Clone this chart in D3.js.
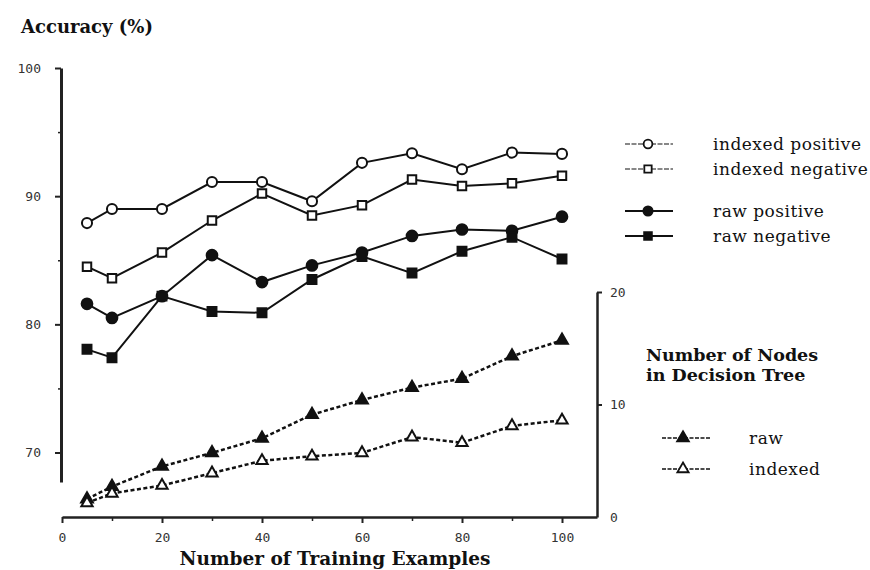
<!DOCTYPE html>
<html>
<head>
<meta charset="utf-8">
<script src="https://cdn.jsdelivr.net/npm/d3@7"></script>
<style>
  body { margin: 0; background: #fff; }
  .tick text { font-family: "DejaVu Sans Mono", monospace; font-size: 13px; fill: #333; }
  .axis path, .axis line { stroke: #222; }
  .serif { font-family: "DejaVu Serif", serif; fill: #111; }
</style>
</head>
<body>
<div id="chart-area"></div>
<script>
// Data
let examples = [5, 10, 20, 30, 40, 50, 60, 70, 80, 90, 100]
let indexedPositive = [87.9, 89.0, 89.0, 91.1, 91.1, 89.6, 92.6, 93.35, 92.1, 93.4, 93.3]
let indexedNegative = [84.5, 83.6, 85.6, 88.1, 90.2, 88.5, 89.3, 91.3, 90.8, 91.0, 91.6]
let rawPositive = [81.6, 80.5, 82.2, 85.4, 83.3, 84.6, 85.6, 86.9, 87.4, 87.3, 88.4]
let rawNegative = [78.05, 77.4, 82.2, 81.0, 80.9, 83.5, 85.3, 84.0, 85.7, 86.8, 85.1]
let nodesRaw = [1.6, 2.7, 4.5, 5.7, 7.0, 9.1, 10.4, 11.5, 12.3, 14.3, 15.7]
let nodesIndexed = [1.25, 2.1, 2.8, 3.9, 5.0, 5.4, 5.7, 7.1, 6.6, 8.1, 8.6]

let xTicks = [0, 20, 40, 60, 80, 100]
let accTicks = [70, 80, 90, 100]
let nodeTicks = [0, 10, 20]

let width = 870
let height = 570

let svg = d3.select('#chart-area').append('svg')
  .attr('width', width)
  .attr('height', height)

// Scales
let x = d3.scaleLinear().domain([0, 107]).range([62, 597])
let y = d3.scaleLinear().domain([67.7, 100]).range([482, 68])
let y2 = d3.scaleLinear().domain([0, 20]).range([517, 292])

// Axes
let xAxis = svg.append('g')
  .attr('class', 'axis')
  .attr('transform', 'translate(0,517)')
  .call(d3.axisBottom(x).tickValues(xTicks).tickSize(6).tickSizeOuter(0).tickPadding(10))
xAxis.select('.domain').attr('stroke-width', 2.5)
xAxis.selectAll('.tick line').attr('stroke-width', 2)

// minor ticks on x
svg.append('g')
  .attr('class', 'axis')
  .attr('transform', 'translate(0,517)')
  .call(d3.axisBottom(x).tickValues([10, 30, 50, 70, 90]).tickSize(4).tickFormat(''))
  .call(g => g.select('.domain').remove())
  .selectAll('.tick line').attr('stroke-width', 1.5)

let yAxis = svg.append('g')
  .attr('class', 'axis')
  .attr('transform', 'translate(61,0)')
  .call(d3.axisLeft(y).tickValues(accTicks).tickSize(6).tickSizeOuter(0).tickPadding(14))
yAxis.select('.domain').attr('stroke-width', 3)
yAxis.selectAll('.tick line').attr('stroke-width', 2)

svg.append('g')
  .attr('class', 'axis')
  .attr('transform', 'translate(61,0)')
  .call(d3.axisLeft(y).tickValues([75, 85, 95]).tickSize(3).tickFormat(''))
  .call(g => g.select('.domain').remove())
  .selectAll('.tick line').attr('stroke-width', 1.5)

let y2Axis = svg.append('g')
  .attr('class', 'axis')
  .attr('transform', 'translate(597,0)')
  .call(d3.axisRight(y2).tickValues(nodeTicks).tickSize(5).tickSizeOuter(0).tickPadding(8))
y2Axis.select('.domain').attr('stroke-width', 2.5)
y2Axis.selectAll('.tick line').attr('stroke-width', 2)
y2Axis.selectAll('.tick').filter(d => d === 0).select('line').remove()

// Titles
svg.append('text')
  .attr('class', 'serif')
  .attr('x', 21)
  .attr('y', 33)
  .style('font-weight', 'bold')
  .style('font-size', '18px')
  .text('Accuracy (%)')

svg.append('text')
  .attr('class', 'serif')
  .attr('x', 335)
  .attr('y', 565)
  .attr('text-anchor', 'middle')
  .style('font-weight', 'bold')
  .style('font-size', '18.5px')
  .text('Number of Training Examples')

// Series
let accSeries = [
  { name: 'indexed positive', values: indexedPositive, symbol: d3.symbolCircle, size: 80, fill: '#fff', dash: null },
  { name: 'indexed negative', values: indexedNegative, symbol: d3.symbolSquare, size: 72, fill: '#fff', dash: null },
  { name: 'raw positive', values: rawPositive, symbol: d3.symbolCircle, size: 90, fill: '#111', dash: null },
  { name: 'raw negative', values: rawNegative, symbol: d3.symbolSquare, size: 80, fill: '#111', dash: null }
]
let nodeSeries = [
  { name: 'raw', values: nodesRaw, symbol: d3.symbolTriangle, size: 60, fill: '#111', dash: '4,2.5' },
  { name: 'indexed', values: nodesIndexed, symbol: d3.symbolTriangle, size: 55, fill: '#fff', dash: '4,2.5' }
]

function drawSeries(s, yScale, lineWidth) {
  let pts = examples.map((e, i) => [x(e), yScale(s.values[i])])
  svg.append('path')
    .attr('d', d3.line()(pts))
    .attr('fill', 'none')
    .attr('stroke', '#111')
    .attr('stroke-width', lineWidth)
    .attr('stroke-dasharray', s.dash)
  svg.append('g').selectAll('path')
    .data(pts)
    .enter().append('path')
    .attr('transform', d => 'translate(' + d[0] + ',' + d[1] + ')')
    .attr('d', d3.symbol().type(s.symbol).size(s.size))
    .attr('fill', s.fill)
    .attr('stroke', '#111')
    .attr('stroke-width', 2)
}

accSeries.forEach(s => drawSeries(s, y, 2))
nodeSeries.forEach(s => drawSeries(s, y2, 2.5))

// Accuracy legend
let legendY = [144, 169, 211, 236]
accSeries.forEach((s, i) => {
  let g = svg.append('g').attr('transform', 'translate(0,' + legendY[i] + ')')
  g.append('line')
    .attr('x1', 625).attr('x2', 673)
    .attr('stroke', '#111')
    .attr('stroke-width', s.fill === '#fff' ? 1.2 : 2)
    .attr('stroke-dasharray', s.fill === '#fff' ? '5,1.5' : null)
  g.append('path')
    .attr('transform', 'translate(648,0)')
    .attr('d', d3.symbol().type(s.symbol).size(s.size * 0.75))
    .attr('fill', s.fill)
    .attr('stroke', '#111')
    .attr('stroke-width', 1.8)
  g.append('text')
    .attr('class', 'serif')
    .attr('x', 713)
    .attr('dy', '0.35em')
    .style('font-size', '17px')
    .style('letter-spacing', '0.5px')
    .text(s.name)
})

// Nodes legend
svg.append('text')
  .attr('class', 'serif')
  .attr('x', 646)
  .attr('y', 361)
  .style('font-weight', 'bold')
  .style('font-size', '17.5px')
  .text('Number of Nodes')
svg.append('text')
  .attr('class', 'serif')
  .attr('x', 646)
  .attr('y', 381)
  .style('font-weight', 'bold')
  .style('font-size', '17.5px')
  .text('in Decision Tree')

let nodeLegendY = [438, 469]
nodeSeries.forEach((s, i) => {
  let g = svg.append('g').attr('transform', 'translate(0,' + nodeLegendY[i] + ')')
  g.append('line')
    .attr('x1', 662).attr('x2', 710)
    .attr('stroke', '#111')
    .attr('stroke-width', 1.3)
    .attr('stroke-dasharray', '4,1.5')
  g.append('path')
    .attr('transform', 'translate(683,0)')
    .attr('d', d3.symbol().type(s.symbol).size(s.size))
    .attr('fill', s.fill)
    .attr('stroke', '#111')
    .attr('stroke-width', 1.8)
  g.append('text')
    .attr('class', 'serif')
    .attr('x', 749)
    .attr('dy', '0.35em')
    .style('font-size', '17px')
    .style('letter-spacing', '0.5px')
    .text(s.name)
})
</script>
</body>
</html>
